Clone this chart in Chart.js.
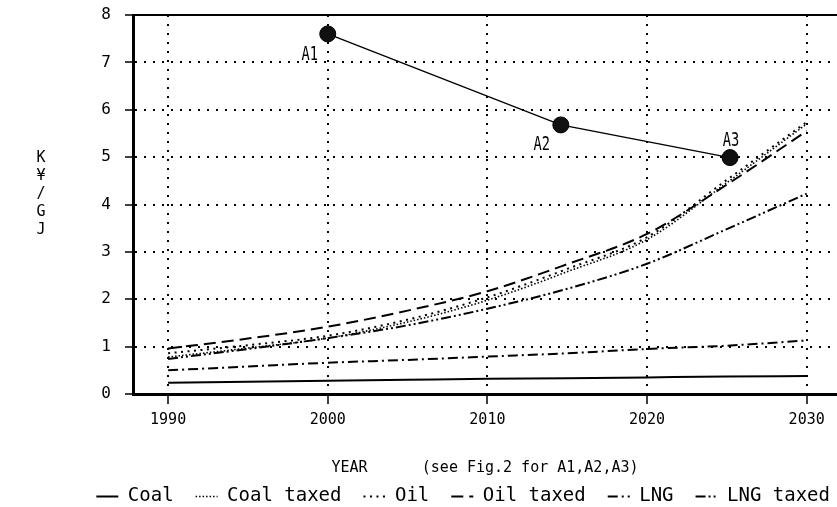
<!DOCTYPE html>
<html>
<head>
<meta charset="utf-8">
<script src="https://cdn.jsdelivr.net/npm/chart.js@4.4.0/dist/chart.umd.min.js"></script>
<style>
  html, body { margin: 0; padding: 0; background: #fff; }
</style>
</head>
<body>
<canvas id="myChart" width="837" height="507"></canvas>
<script>
var years = [1990, 1995, 2000, 2005, 2010, 2015, 2020, 2025, 2030];
var coal = [0.24, 0.26, 0.28, 0.30, 0.32, 0.33, 0.35, 0.37, 0.38];
var coalTaxed = [0.78, 0.97, 1.18, 1.52, 1.98, 2.58, 3.26, 4.46, 5.70];
var oil = [0.86, 1.03, 1.23, 1.57, 2.04, 2.64, 3.31, 4.52, 5.74];
var oilTaxed = [0.96, 1.17, 1.42, 1.76, 2.17, 2.74, 3.38, 4.42, 5.55];
var lng = [0.50, 0.58, 0.66, 0.72, 0.79, 0.86, 0.95, 1.02, 1.13];
var lngTaxed = [0.74, 0.95, 1.18, 1.45, 1.80, 2.22, 2.75, 3.48, 4.23];

var aYears = [2000, 2014.6, 2025.2];
var aValues = [7.60, 5.68, 4.99];
var aLabels = ['A1', 'A2', 'A3'];

var xTicks = [1990, 2000, 2010, 2020, 2030];
var yTicks = [0, 1, 2, 3, 4, 5, 6, 7, 8];
var yTitle = ['K', '¥', '/', 'G', 'J'];

var mono = '"DejaVu Sans Mono", monospace';

function series(label, values, dash, width) {
  return {
    label: label,
    data: years.map(function (y, i) { return { x: y, y: values[i] }; }),
    xAxisID: 'x',
    borderColor: '#000',
    borderWidth: width,
    borderDash: dash,
    pointRadius: 0,
    cubicInterpolationMode: 'monotone',
    fill: false
  };
}

var yTitlePlugin = {
  id: 'yTitle',
  afterDraw: function (chart) {
    var c = chart.ctx;
    c.save();
    c.fillStyle = '#000';
    c.font = '15px ' + mono;
    c.textAlign = 'center';
    c.textBaseline = 'middle';
    yTitle.forEach(function (t, i) { c.fillText(t, 41, 158 + i * 18); });
    c.restore();
  }
};

var aLabelPlugin = {
  id: 'aLabels',
  afterDatasetsDraw: function (chart) {
    var meta = chart.getDatasetMeta(6);
    var offs = [[-18, 21], [-19, 20], [1, -17]];
    var c = chart.ctx;
    c.save();
    c.fillStyle = '#000';
    c.textAlign = 'center';
    c.textBaseline = 'middle';
    meta.data.forEach(function (pt, i) {
      c.save();
      c.translate(pt.x + offs[i][0], pt.y + offs[i][1]);
      c.scale(0.72, 1);
      c.font = '19px ' + mono;
      c.fillText(aLabels[i], 0, 0);
      c.restore();
    });
    c.restore();
  }
};

function noPad(s) {
  s.paddingLeft = 0;
  s.paddingRight = 0;
  s.paddingTop = 0;
  s.paddingBottom = 0;
}

var ctx = document.getElementById('myChart');

var chart = new Chart(ctx, {
  type: 'line',
  data: {
    datasets: [
      series('Coal', coal, [], 2),
      series('Coal taxed', coalTaxed, [1.5, 2], 1.6),
      series('Oil', oil, [2, 4.5], 2),
      series('Oil taxed', oilTaxed, [12, 6], 2),
      series('LNG', lng, [10, 4, 2, 4], 2),
      series('LNG taxed', lngTaxed, [10, 3, 2, 3, 2, 3], 2),
      {
        label: 'A',
        data: aYears.map(function (y, i) { return { x: y, y: aValues[i] }; }),
        xAxisID: 'x',
        borderColor: '#000',
        borderWidth: 1.4,
        pointRadius: 8,
        pointBackgroundColor: '#111',
        pointBorderColor: '#000',
        pointBorderWidth: 1,
        tension: 0,
        fill: false
      }
    ]
  },
  options: {
    responsive: false,
    animation: false,
    layout: { autoPadding: false, padding: { top: 15, left: 0, right: -15, bottom: -9 } },
    plugins: {
      tooltip: { enabled: false },
      legend: {
        position: 'bottom',
        align: 'end',
        labels: {
          usePointStyle: true,
          pointStyleWidth: 22,
          color: '#000',
          font: { family: mono, size: 19 },
          padding: 22,
          generateLabels: function (chart) {
            return chart.data.datasets.slice(0, 6).map(function (ds, i) {
              return {
                text: ds.label,
                datasetIndex: i,
                fillStyle: '#000',
                strokeStyle: '#000',
                fontColor: '#000',
                lineWidth: ds.borderWidth,
                lineDash: ds.borderDash,
                pointStyle: 'line',
                hidden: false
              };
            });
          }
        }
      }
    },
    scales: {
      x: {
        type: 'linear',
        position: 'bottom',
        min: 1987.8,
        max: 2031.9,
        afterBuildTicks: function (s) { s.ticks = xTicks.map(function (v) { return { value: v }; }); },
        afterFit: noPad,
        ticks: {
          color: '#000', font: { family: mono, size: 15 }, padding: 7, maxRotation: 0, autoSkip: false,
          callback: function (v) { return String(v); }
        },
        grid: { color: '#000', lineWidth: 2, tickLength: 10, tickColor: '#000', tickWidth: 1.5 },
        border: { display: true, color: '#000', width: 3, dash: [2, 7] },
        title: {
          display: true,
          text: 'YEAR      (see Fig.2 for A1,A2,A3)',
          color: '#000',
          font: { family: mono, size: 15 },
          padding: { top: 23, bottom: -12 }
        }
      },
      x2: {
        type: 'linear',
        position: 'top',
        min: 1987.8,
        max: 2031.9,
        afterFit: noPad,
        ticks: { display: false },
        grid: { display: false, drawTicks: false },
        border: { display: true, color: '#000', width: 2 }
      },
      y: {
        min: 0,
        max: 8,
        afterBuildTicks: function (s) { s.ticks = yTicks.map(function (v) { return { value: v }; }); },
        afterFit: function (s) { s.width = 133; noPad(s); },
        ticks: { color: '#000', font: { family: mono, size: 16 }, padding: 14 },
        grid: { color: '#000', lineWidth: 2, tickLength: 8, tickColor: '#000', tickWidth: 1.5 },
        border: { display: true, color: '#000', width: 3, dash: [2, 7] }
      }
    }
  },
  plugins: [yTitlePlugin, aLabelPlugin]
});
</script>
</body>
</html>
